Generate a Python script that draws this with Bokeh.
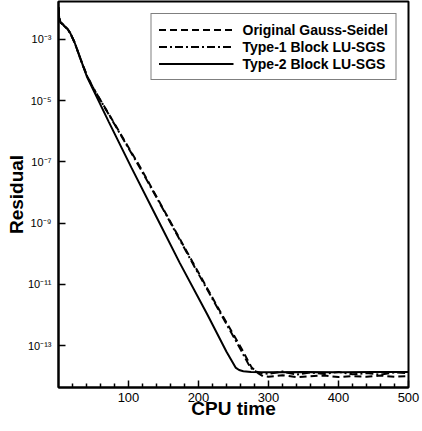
from bokeh.plotting import figure
from bokeh.models import FixedTicker, Legend, LegendItem
from bokeh.embed import file_html
from bokeh.resources import INLINE

# ---- data (residual given as log10) ----
t2_cpu = [0, 1, 3, 6, 9, 13, 17, 23, 29, 34, 41, 72, 104, 140, 173, 213, 240, 253, 258,
          264, 275, 300, 350, 400, 450, 500]
t2_log = [-1.95, -2.3, -2.45, -2.5, -2.58, -2.66, -2.8, -3.1, -3.48, -3.8, -4.24, -5.7,
          -7.18, -8.8, -10.29, -12.0, -13.2, -13.72, -13.8, -13.84, -13.86, -13.87, -13.86,
          -13.87, -13.86, -13.86]

t1_cpu = [0, 1, 3, 6, 9, 13, 17, 23, 29, 34, 41, 50, 80, 116, 150, 191, 230, 260, 274,
          282, 290, 300, 320, 340, 360, 380, 400, 420, 440, 460, 480, 500]
t1_log = [-1.95, -2.3, -2.45, -2.5, -2.58, -2.66, -2.8, -3.1, -3.48, -3.8, -4.2, -4.6,
          -5.77, -7.18, -8.57, -10.29, -11.89, -13.12, -13.72, -13.85, -13.9, -13.92,
          -13.85, -13.95, -13.88, -13.93, -13.86, -13.94, -13.9, -13.95, -13.88, -13.9]

gs_cpu = [0, 1, 3, 6, 9, 13, 17, 23, 29, 34, 41, 50, 80, 117, 150, 192, 230, 262, 276,
          285, 292, 300, 320, 340, 360, 380, 400, 420, 440, 460, 480, 500]
gs_log = [-1.95, -2.3, -2.45, -2.5, -2.58, -2.66, -2.8, -3.1, -3.48, -3.8, -4.2, -4.6,
          -5.75, -7.18, -8.55, -10.29, -11.85, -13.12, -13.72, -13.9, -14.0, -14.02,
          -13.97, -14.03, -14.0, -13.98, -14.03, -14.0, -14.02, -13.98, -14.02, -14.0]

x_ticks = [100, 200, 300, 400, 500]
x_minor = [v for v in range(20, 500, 20) if v % 100]
y_exps = [-3, -5, -7, -9, -11, -13]
y_labels = ["10\u207b\u00b3", "10\u207b\u2075", "10\u207b\u2077", "10\u207b\u2079",
            "10\u207b\u00b9\u00b9", "10\u207b\u00b9\u00b3"]
series_names = ["Original Gauss-Seidel", "Type-1 Block LU-SGS", "Type-2 Block LU-SGS"]
x_title = "CPU time"
y_title = "Residual"

FONT = "Liberation Sans"

p = figure(width=422, height=423, output_backend="svg", toolbar_location=None,
           y_axis_type="log", x_range=(0, 500), y_range=(10 ** -14.37, 10 ** -1.76),
           min_border_left=58, min_border_right=14, min_border_top=1, min_border_bottom=36)
p.grid.visible = False
p.outline_line_color = "black"
p.outline_line_width = 2
p.background_fill_color = "white"
p.border_fill_color = "white"

def pw(vals):
    return [10 ** v for v in vals]

r_gs = p.line(gs_cpu, pw(gs_log), line_color="black", line_width=2, line_dash="7 4")
r_t1 = p.line(t1_cpu, pw(t1_log), line_color="black", line_width=2, line_dash="8 3 2 3")
r_t2 = p.line(t2_cpu, pw(t2_log), line_color="black", line_width=2)

# axes
xa = p.xaxis[0]
xa.ticker = FixedTicker(ticks=x_ticks, minor_ticks=x_minor)
xa.axis_label = x_title
ya = p.yaxis[0]
y_vals = [10.0 ** e for e in y_exps]
ya.ticker = FixedTicker(ticks=y_vals, minor_ticks=[])
ya.major_label_overrides = {v: s for v, s in zip(y_vals, y_labels)}
ya.axis_label = y_title

for ax in (xa, ya):
    ax.axis_line_color = "black"
    ax.axis_line_width = 2
    ax.major_tick_line_color = "black"
    ax.major_tick_line_width = 1.5
    ax.major_tick_in = 7
    ax.major_tick_out = 0
    ax.minor_tick_line_color = "black"
    ax.minor_tick_line_width = 1.5
    ax.minor_tick_in = 4
    ax.minor_tick_out = 0
    ax.major_label_text_font = FONT
    ax.major_label_text_color = "black"
    ax.axis_label_text_font = FONT
    ax.axis_label_text_font_style = "bold"
    ax.axis_label_text_font_size = "19px"
    ax.axis_label_text_color = "black"

xa.major_label_text_font_size = "13px"
xa.major_label_standoff = 5
xa.axis_label_standoff = -7
ya.major_label_text_font_size = "11px"
ya.major_label_standoff = 7
ya.axis_label_standoff = -2

legend = Legend(items=[LegendItem(label=series_names[0], renderers=[r_gs]),
                       LegendItem(label=series_names[1], renderers=[r_t1]),
                       LegendItem(label=series_names[2], renderers=[r_t2])],
                location="top_right")
legend.margin = 12
legend.padding = 7
legend.spacing = 0
legend.glyph_width = 75
legend.glyph_height = 17
legend.label_height = 17
legend.label_standoff = 9
legend.label_text_font = FONT
legend.label_text_font_style = "bold"
legend.label_text_font_size = "14px"
legend.label_text_color = "black"
legend.border_line_color = "black"
legend.border_line_width = 1.5
legend.background_fill_alpha = 1
p.add_layout(legend, "center")

open("out.html", "w").write(file_html(p, INLINE))
